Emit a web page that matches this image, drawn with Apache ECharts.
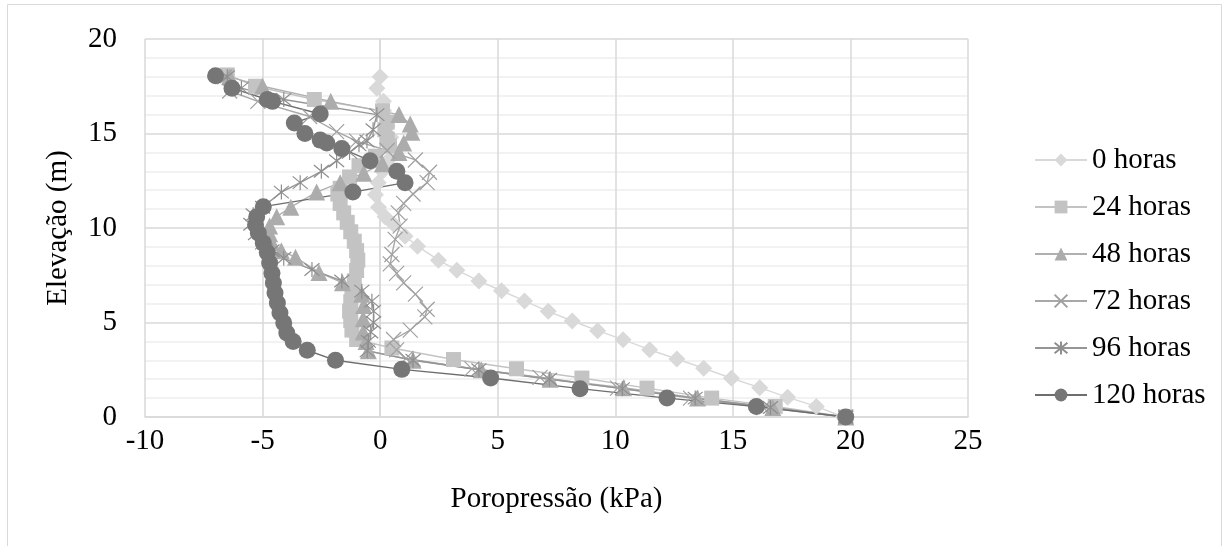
<!DOCTYPE html>
<html>
<head>
<meta charset="utf-8">
<script src="https://cdn.jsdelivr.net/npm/echarts@6/dist/echarts.min.js"></script>
<style>
html,body{margin:0;padding:0;background:#fff;}
#chart{width:1229px;height:546px;}
</style>
</head>
<body>
<div id="chart"></div>
<script>
// ---- Data ----
const seriesNames = ['0 horas','24 horas','48 horas','72 horas','96 horas','120 horas'];
const xTicks = [-10,-5,0,5,10,15,20,25];
const yTicks = [0,5,10,15,20];

const elev0 = [0,0.56,1.04,1.55,2.05,2.58,3.07,3.56,4.09,4.57,5.08,5.59,6.14,6.68,7.2,7.77,8.3,9.04,9.56,10.2,10.6,11.1,11.76,12.4,13.0,13.6,14.2,14.8,15.4,16.2,16.7,17.4,18.0];
const pp0   = [19.7,18.55,17.33,16.14,14.94,13.76,12.62,11.46,10.33,9.25,8.17,7.15,6.14,5.16,4.2,3.26,2.48,1.59,1.06,0.57,0.21,-0.07,-0.2,-0.08,0.1,0.35,0.5,0.45,0.3,0.15,0.14,-0.14,0];

const elev24 = [0,0.56,1.0,1.53,2.06,2.55,3.04,3.65,4.1,4.6,5.1,5.6,6.1,6.65,7.2,7.75,8.3,8.8,9.3,9.8,10.3,10.8,11.3,11.8,12.1,12.7,13.3,13.8,14.35,14.7,15.2,15.6,16.2,16.8,17.5,18.1];
const pp24   = [19.8,16.8,14.1,11.35,8.58,5.8,3.12,0.5,-1.0,-1.2,-1.25,-1.3,-1.25,-1.2,-1.1,-1.0,-0.95,-1.0,-1.1,-1.25,-1.4,-1.55,-1.7,-1.8,-1.7,-1.3,-0.9,-0.2,0.4,0.3,0.2,0.3,0.1,-2.8,-5.3,-6.5];

const elev48 = [0,0.5,1.0,1.55,2.0,2.5,3.0,3.5,4.0,4.5,5.2,5.9,6.5,7.1,7.65,8.45,8.8,9.2,9.7,10.1,10.6,11.1,11.9,12.4,12.9,13.4,14.0,14.5,15.06,15.5,16.0,16.7,17.5,18.0];
const pp48   = [19.8,16.7,13.5,10.35,7.23,4.3,1.4,-0.5,-0.6,-0.72,-0.72,-0.7,-0.78,-1.6,-2.6,-3.6,-4.2,-4.6,-4.7,-4.7,-4.4,-3.8,-2.7,-1.7,-0.7,0.1,0.8,1.0,1.35,1.28,0.8,-2.1,-5.0,-6.4];

const elev72 = [0,0.5,1.0,1.53,2.1,2.55,3.1,3.55,4.1,4.6,5.3,5.7,6.5,7.1,7.6,8.1,8.6,9.4,10.1,10.8,11.3,11.8,12.4,12.95,13.6,14.1,14.6,15.1,15.9,16.7,17.25,18.0];
const pp72   = [19.8,16.3,13.2,10.1,6.8,3.9,1.1,0.7,0.57,1.28,1.9,2.0,1.5,1.0,0.7,0.43,0.5,0.64,0.85,0.77,1.0,1.4,2.0,2.1,1.5,0.3,-1.0,-1.85,-3.0,-5.2,-6.4,-6.6];

const elev96 = [0,0.5,1.0,1.5,2.0,2.5,3.0,3.5,4.0,4.5,5.0,5.6,6.13,6.66,7.2,7.8,8.4,8.8,9.2,9.7,10.2,10.7,11.1,11.9,12.4,13.0,13.56,14.0,14.4,14.6,15.2,16.0,16.8,17.4,18.0];
const pp96   = [19.8,16.6,13.4,10.3,7.2,4.2,1.4,-0.55,-0.5,-0.4,-0.28,-0.28,-0.35,-0.78,-1.63,-2.9,-4.1,-4.6,-5.0,-5.3,-5.5,-5.4,-5.0,-4.2,-3.4,-2.5,-1.85,-1.3,-0.9,-0.56,-0.3,-0.14,-4.1,-5.9,-6.5];

const elev120 = [0,0.55,1.0,1.5,2.06,2.52,3.0,3.53,4.0,4.45,4.98,5.5,6.03,6.56,7.09,7.6,8.15,8.7,9.2,9.73,10.17,10.6,11.13,11.9,12.4,13.0,13.56,14.2,14.5,14.65,15.0,15.56,16.03,16.7,16.8,17.4,18.06];
const pp120   = [19.8,16.0,12.2,8.5,4.7,0.92,-1.9,-3.1,-3.7,-3.97,-4.1,-4.26,-4.37,-4.47,-4.54,-4.6,-4.7,-4.8,-4.97,-5.18,-5.3,-5.25,-4.97,-1.16,1.06,0.71,-0.43,-1.63,-2.27,-2.55,-3.2,-3.65,-2.55,-4.58,-4.8,-6.3,-7.0];

// ---- Styling ----
const FONT = "'Liberation Serif','Times New Roman',serif";
const xPath = 'path://M0 0 L10 10 M10 0 L0 10';
const starPath = 'path://M0 0 L10 10 M10 0 L0 10 M5 -1 L5 11';

function pairs(vals, elevs){ return vals.map((v,i)=>[v, elevs[i]]); }

const defs = [
  {name: seriesNames[0], data: pairs(pp0, elev0),   symbol:'diamond',  size:17, color:'#d9d9d9', line:'#d9d9d9', stroke:false},
  {name: seriesNames[1], data: pairs(pp24, elev24), symbol:'rect',     size:15, color:'#c3c3c3', line:'#c3c3c3', stroke:false},
  {name: seriesNames[2], data: pairs(pp48, elev48), symbol:'triangle', size:17, color:'#acacac', line:'#b0b0b0', stroke:false},
  {name: seriesNames[3], data: pairs(pp72, elev72), symbol:xPath,      size:15, color:'#a0a0a0', line:'#a8a8a8', stroke:true},
  {name: seriesNames[4], data: pairs(pp96, elev96), symbol:starPath,   size:15, color:'#8e8e8e', line:'#959595', stroke:true},
  {name: seriesNames[5], data: pairs(pp120, elev120), symbol:'circle', size:17, color:'#767676', line:'#6e6e6e', stroke:false}
];

const series = defs.map(d => ({
  name: d.name,
  type: 'line',
  data: d.data,
  symbol: d.symbol,
  symbolSize: d.size,
  showAllSymbol: true,
  animation: false,
  lineStyle: {color: d.line, width: 1.4},
  itemStyle: d.stroke
    ? {color: 'rgba(0,0,0,0)', borderColor: d.color, borderWidth: 1.2}
    : {color: d.color, borderWidth: 0},
  emphasis: {disabled: true}
}));

const chart = echarts.init(document.getElementById('chart'), null, {renderer: 'canvas'});
chart.setOption({
  backgroundColor: '#ffffff',
  animation: false,
  graphic: [{
    type: 'rect', silent: true,
    shape: {x: 7.5, y: 4.5, width: 1214, height: 600},
    style: {fill: 'none', stroke: '#d9d9d9', lineWidth: 1}
  }],
  grid: {left: 145, right: 261, top: 39, bottom: 129, containLabel: false},
  legend: {
    orient: 'vertical',
    left: 1029, top: 140,
    itemWidth: 52, itemHeight: 16, itemGap: 17,
    data: seriesNames,
    textStyle: {fontFamily: FONT, fontSize: 29, color: '#000', lineHeight: 30}
  },
  xAxis: {
    type: 'value',
    min: xTicks[0], max: xTicks[xTicks.length-1], interval: 5,
    name: 'Poropressão (kPa)', nameLocation: 'middle', nameGap: 68,
    nameTextStyle: {fontFamily: FONT, fontSize: 29, color: '#000'},
    axisLine: {show: true, lineStyle: {color: '#d9d9d9', width: 1.5}},
    axisTick: {show: false},
    axisLabel: {fontFamily: FONT, fontSize: 29, color: '#000', margin: 10},
    splitLine: {show: true, lineStyle: {color: '#d9d9d9', width: 1.5}}
  },
  yAxis: {
    type: 'value',
    min: yTicks[0], max: yTicks[yTicks.length-1], interval: 5,
    name: 'Elevação (m)', nameLocation: 'middle', nameGap: 72, nameRotate: 90,
    nameTextStyle: {fontFamily: FONT, fontSize: 29, color: '#000'},
    axisLine: {show: true, lineStyle: {color: '#d9d9d9', width: 1.5}},
    axisTick: {show: false},
    axisLabel: {fontFamily: FONT, fontSize: 29, color: '#000', margin: 28},
    splitLine: {show: true, lineStyle: {color: '#d9d9d9', width: 1.5}},
    minorTick: {show: false, splitNumber: 5},
    minorSplitLine: {show: true, lineStyle: {color: '#eeeeee', width: 1.5}}
  },
  series: series
});
</script>
</body>
</html>
